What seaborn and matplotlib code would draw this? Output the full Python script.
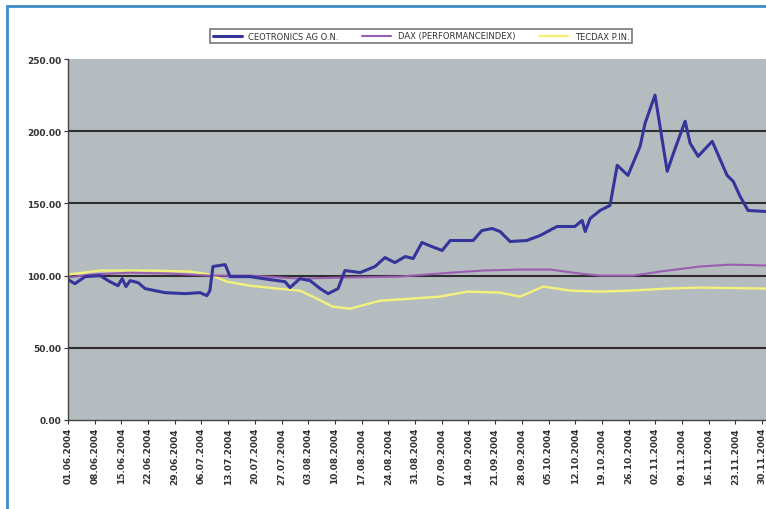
import pandas as pd
import matplotlib.pyplot as plt
from matplotlib.patches import Rectangle
import seaborn as sns

# Kursverlauf, Tage ab Startdatum, indexiert auf 100
start = pd.Timestamp('2004-06-01')
tick_dates = pd.date_range(start, periods=27, freq='7D')
tick_labels = [d.strftime('%d.%m.%Y') for d in tick_dates]

names = ['CEOTRONICS AG O.N.', 'DAX (PERFORMANCEINDEX)', 'TECDAX P.IN.']

ceo_day = [0, 1.8, 4.5, 8.4, 11, 13.1, 14.2, 15.2, 16.3, 18.4, 20.2, 25.4, 30.7,
           34.6, 36.4, 37.2, 38, 41.2, 42.5, 47.7, 53, 56.9, 58.2, 60.8, 63.5,
           66.1, 68.2, 70.8, 72.6, 76.6, 80.5, 83.1, 85.7, 88.4, 90.5, 92.8,
           95.4, 98.1, 100.2, 102.8, 106.2, 108.5, 111.2, 113.3, 115.9, 120.3,
           123.8, 128.2, 132.9, 134.8, 135.6, 136.9, 139.5, 142.1, 144, 146.8,
           150, 151.3, 153.9, 157.1, 159.2, 161.8, 163.1, 165.2, 168.9, 172.8,
           174.4, 176.2, 178.3, 183]
ceo_val = [97.2, 94.4, 99.3, 100, 95.8, 93, 97.9, 92.4, 96.5, 95.1, 91, 88.2, 87.5,
           88.2, 86.1, 89.6, 106.3, 107.6, 99.3, 99.3, 97.2, 95.8, 91.7, 97.9, 96.5,
           91, 87.5, 91, 103.5, 102.1, 106.3, 112.5, 109, 113.2, 111.8, 122.9,
           120.1, 117.4, 124.3, 124.3, 124.3, 131.2, 132.6, 130.5, 123.6, 124.3,
           127.8, 134, 134, 138.2, 130.5, 139.6, 145.1, 148.6, 176.4, 169.4,
           189.6, 205.5, 225, 172.2, 188.2, 206.9, 191.7, 182.6, 193, 169.4,
           165.3, 154.9, 145.1, 144.4]

dax_day = [0, 5.8, 16.3, 26.7, 37.2, 47.7, 60.8, 71.3, 87, 100.2, 108.8, 118.5,
           126.4, 134.2, 139.5, 148.1, 155.2, 165.7, 173.6, 183]
dax_val = [98.6, 100.7, 102, 101.4, 100, 100, 97.9, 98.6, 99.3, 102, 103.5, 104.2,
           104.2, 101.4, 100, 100, 102.8, 106.3, 107.6, 107]

tec_day = [0, 8.4, 21.5, 32, 37.2, 41.7, 47.7, 54.8, 60.8, 64.2, 69.4, 73.9, 81.8,
           89.7, 97.5, 104.6, 113.3, 118.5, 124.6, 131.7, 139.5, 147.4, 157.1,
           165.7, 183]
tec_val = [100.7, 103.5, 103.5, 102.8, 100.7, 95.8, 93, 91, 89.6, 85.4, 78.5, 77.1,
           82.6, 84, 85.4, 88.9, 88.2, 85.4, 92.4, 89.6, 88.9, 89.6, 91, 91.7, 91]

frames = []
for name, day, val in [(names[0], ceo_day, ceo_val),
                       (names[1], dax_day, dax_val),
                       (names[2], tec_day, tec_val)]:
    f = pd.DataFrame({'Datum': start + pd.to_timedelta(day, unit='D'), 'Kurs': val})
    f['Wert'] = name
    frames.append(f)
df = pd.concat(frames, ignore_index=True)

colors = ['#34349a', '#9a5eb0', '#f2f27a']
widths = [2.2, 1.5, 1.7]

sns.set_style('white')
plt.rcParams['font.family'] = ['DejaVu Sans']

fig = plt.figure(figsize=(7.66, 5.1), dpi=100)
ax = fig.add_axes([68 / 766, 89 / 510, 1 - 68 / 766, 361 / 510])
ax.set_facecolor('#b5bcbf')

# Linien von hinten nach vorne
for i in [2, 1, 0]:
    sns.lineplot(data=df[df['Wert'] == names[i]], x='Datum', y='Kurs',
                 color=colors[i], lw=widths[i], ax=ax, label=names[i],
                 estimator=None, sort=False)

ax.set_ylim(0, 250)
ax.set_yticks([0, 50, 100, 150, 200, 250])
ax.set_yticklabels(['%.2f' % v for v in [0, 50, 100, 150, 200, 250]],
                   fontsize=6.5, color='#333333', fontweight='bold')
for v in [50, 100, 150, 200]:
    ax.axhline(v, color='#2e2e2e', lw=1.5, zorder=1)

ax.set_xlim(start, start + pd.Timedelta(days=183))
ax.set_xticks(tick_dates)
ax.set_xticklabels(tick_labels, rotation=90, fontsize=6.5, color='#333333',
                   fontweight='bold')
ax.tick_params(axis='both', direction='out', length=3, width=0.8, color='#333333',
               left=True, bottom=True, pad=2)
ax.set_xlabel('')
ax.set_ylabel('')
for s in ['top', 'right']:
    ax.spines[s].set_visible(False)
for s in ['left', 'bottom']:
    ax.spines[s].set_color('#444444')
    ax.spines[s].set_linewidth(1.0)

h, l = ax.get_legend_handles_labels()
order = [l.index(n) for n in names]
leg = ax.legend([h[i] for i in order], [l[i] for i in order], ncol=3,
                loc='center', bbox_to_anchor=(421 / 766, 1 - 37 / 510),
                bbox_transform=fig.transFigure, fontsize=6, frameon=True,
                fancybox=False, edgecolor='#555555', handlelength=3.5,
                columnspacing=2.8, borderpad=0.35)
leg.get_frame().set_linewidth(1.2)
for t in leg.get_texts():
    t.set_color('#333333')

# blauer Rahmen um die Grafik
fig.patches.append(Rectangle((7 / 766, -0.1), 1.2, 1 - 7 / 510 + 0.1,
                             transform=fig.transFigure, fill=False,
                             edgecolor='#3f8cc6', lw=2))

fig.savefig('out.png', dpi=100)
